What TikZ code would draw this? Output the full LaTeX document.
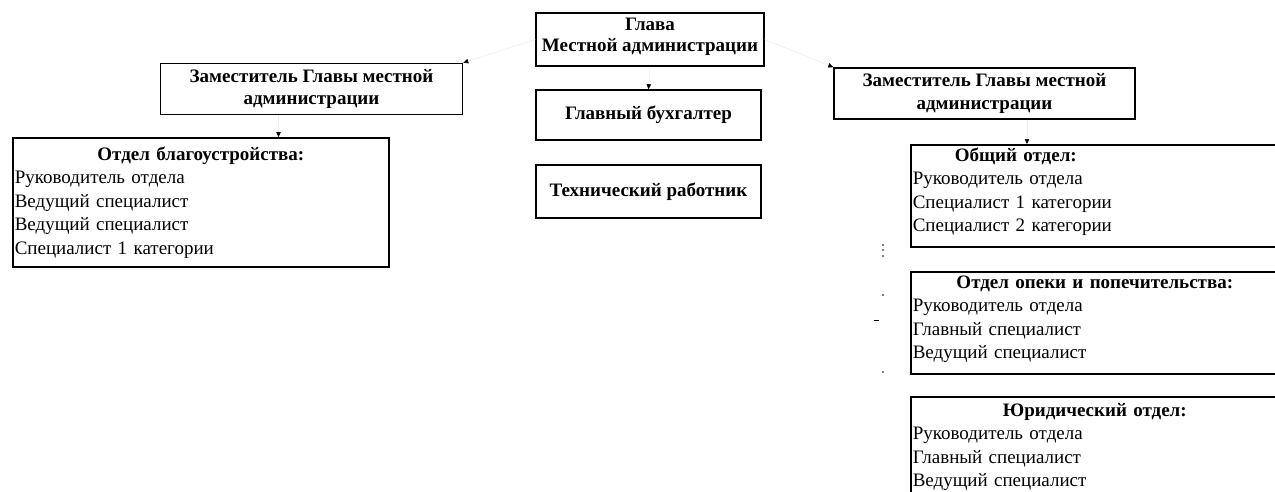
\documentclass[tikz,border=0pt]{standalone}
\usepackage{fontspec}
\setmainfont{Liberation Serif}
\usetikzlibrary{arrows.meta}

\begin{document}
\begin{tikzpicture}[x=1pt, y=-1pt, font=\fontsize{19}{23.5}\selectfont,
    post/.style={rectangle, draw, line width=1.6pt, align=center, inner sep=1pt, font=\fontsize{19}{22.5}\selectfont\bfseries},
    dept/.style={rectangle, draw, line width=1.6pt, align=left, inner xsep=2pt, inner ysep=1pt, anchor=north west},
    link/.style={draw=black!7, line width=0.6pt, -{Triangle[length=5pt, width=4.5pt, black]}}]
\useasboundingbox (0,0) rectangle (1275,491);
\clip (0,0) rectangle (1275,491);

% head of administration and its staff
\node (glava) at (650,39.5) [post, minimum width=228pt, minimum height=53pt, font=\fontsize{19}{21}\selectfont\bfseries] {Глава\\Местной администрации\rule[-9pt]{0pt}{1pt}};
\node (buh) at (648.5,115) [post, minimum width=225pt, minimum height=50pt] {Главный бухгалтер};
\node (tech) at (648.5,191.5) [post, minimum width=225pt, minimum height=53pt] {Технический работник};

% deputies
\node (depL) at (311.5,89) [post, minimum width=302pt, minimum height=51pt] {Заместитель Главы местной\\администрации};
\node (depR) at (984.5,93.5) [post, minimum width=301pt, minimum height=51pt] {Заместитель Главы местной\\администрации};

% departments
\node (blag) at (12,137) [dept, text width=372pt, minimum height=129pt] {\makebox[\hsize]{\bfseries Отдел благоустройства:}\\Руководитель отдела\\Ведущий специалист\\Ведущий специалист\\Специалист 1 категории};
\node (obsh) at (910,144) [dept, text width=390pt, minimum height=102pt] {\makebox[206pt]{\bfseries Общий отдел:}\\Руководитель отдела\\Специалист 1 категории\\Специалист 2 категории\rule[-12pt]{0pt}{1pt}};
\node (opeka) at (910,271) [dept, text width=390pt, minimum height=102pt] {\makebox[364pt]{\bfseries Отдел опеки и попечительства:}\\Руководитель отдела\\Главный специалист\\Ведущий специалист\rule[-11pt]{0pt}{1pt}};
\node (yur) at (910,396) [dept, text width=390pt, minimum height=100pt] {\makebox[364pt]{\bfseries Юридический отдел:}\\Руководитель отдела\\Главный специалист\\Ведущий специалист};

\draw[link] (glava.south) -- (buh.north);
\draw[link] (glava.west) -- (depL.north east);
\draw[link] (glava.east) -- (depR.north west);
\draw[link] ([xshift=-33pt]depL.south) -- ([xshift=-33pt]depL.south |- blag.north);
\draw[link] ([xshift=42.5pt]depR.south) -- ([xshift=42.5pt]depR.south |- obsh.north);

% scan marks left of the right column
\foreach \y in {245,250,256,295,372}
  \fill (883,\y) circle (0.9pt);
\draw[line width=1pt] (874,320) -- (879,320);
\end{tikzpicture}
\end{document}
